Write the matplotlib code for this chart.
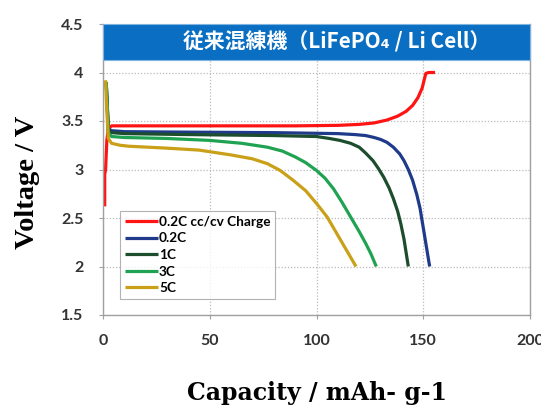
import numpy as np
import matplotlib
matplotlib.use("Agg")
import matplotlib.pyplot as plt
from matplotlib.patches import Rectangle

# --- datos (capacidad mAh/g, voltaje V) ---
charge_cap = [0.8, 0.8, 1.2, 1.8, 2.5, 4, 10, 30, 60, 90, 110, 120, 127, 133, 138, 142, 145, 147.5, 149.5, 150.5, 151.2, 152.5, 155.5]
charge_v = [2.62, 2.95, 3.0, 3.30, 3.42, 3.45, 3.45, 3.45, 3.45, 3.45, 3.455, 3.465, 3.48, 3.51, 3.55, 3.60, 3.66, 3.74, 3.84, 3.93, 3.99, 4.0, 4.0]

c02_cap = [1.5, 2.5, 4, 10, 40, 80, 110, 118, 123, 127, 130, 133, 136, 139, 141, 143, 145, 147, 148.5, 150, 151.5, 153]
c02_v = [3.90, 3.42, 3.40, 3.39, 3.385, 3.38, 3.37, 3.36, 3.35, 3.33, 3.31, 3.28, 3.23, 3.16, 3.09, 3.00, 2.89, 2.74, 2.60, 2.40, 2.20, 2.0]

c1_cap = [1.5, 2.5, 4, 10, 40, 80, 100, 106, 111, 116, 120, 123, 126.5, 129, 131.5, 134, 136, 138, 139.5, 141, 143]
c1_v = [3.90, 3.41, 3.38, 3.37, 3.36, 3.35, 3.34, 3.32, 3.30, 3.27, 3.23, 3.17, 3.09, 3.01, 2.92, 2.81, 2.70, 2.57, 2.44, 2.28, 2.0]

c3_cap = [1.5, 2.5, 4, 10, 30, 50, 65, 77, 84, 90, 95, 100, 104, 108, 112, 116, 120, 123, 125.5, 128]
c3_v = [3.90, 3.38, 3.34, 3.33, 3.32, 3.30, 3.27, 3.23, 3.19, 3.13, 3.07, 2.99, 2.91, 2.80, 2.66, 2.51, 2.36, 2.24, 2.13, 2.0]

c5_cap = [1.2, 1.8, 2.5, 4, 8, 12, 30, 45, 60, 70, 77, 83, 89, 95, 100, 105, 109.5, 114, 118.5]
c5_v = [3.92, 3.60, 3.32, 3.27, 3.25, 3.24, 3.22, 3.20, 3.15, 3.11, 3.06, 2.99, 2.89, 2.78, 2.65, 2.51, 2.34, 2.17, 2.0]

labels = ["0.2C cc/cv Charge", "0.2C", "1C", "3C", "5C"]
colors = ["#FF1414", "#1F3A8A", "#1C4D2C", "#1FA352", "#C9A017"]
series = [(charge_cap, charge_v), (c02_cap, c02_v), (c1_cap, c1_v), (c3_cap, c3_v), (c5_cap, c5_v)]

fig = plt.figure(figsize=(5.41, 4.12), dpi=100)
ax = fig.add_axes([103/541, 1 - 315/412, 427/541, 291/412])

for (x, y), lab, col in zip(series, labels, colors):
    ax.plot(x, y, color=col, lw=2.3, label=lab, solid_capstyle="butt", solid_joinstyle="round")

ax.set_xlim(0, 200)
ax.set_ylim(1.5, 4.5)
ax.set_xticks([0, 50, 100, 150, 200])
ax.set_yticks([1.5, 2, 2.5, 3, 3.5, 4, 4.5])
ax.set_yticklabels(["1.5", "2", "2.5", "3", "3.5", "4", "4.5"])
ax.grid(True, color="#BBBBBB", linestyle=(0, (1, 1.5)), lw=0.9)
ax.set_axisbelow(True)
for s in ["left", "bottom", "right"]:
    ax.spines[s].set_color("#A0A0A0")
    ax.spines[s].set_linewidth(1.0)
ax.spines["top"].set_visible(False)
ax.tick_params(colors="#A0A0A0", length=3, width=0.8, pad=11, labelcolor="#333333")
for t in ax.get_xticklabels() + ax.get_yticklabels():
    t.set_fontfamily("Lato")
    t.set_fontweight("bold")
    t.set_fontsize(11.5)

# banda azul del titulo
ax.add_patch(Rectangle((0, (315 - 60) / 291), 1, 1 - (315 - 60) / 291, transform=ax.transAxes,
                       facecolor="#0A6FC2", edgecolor="#7FB3E0", lw=0.8, zorder=5, clip_on=False))
fig.text(337/541, 1 - 42/412, "従来混練機（LiFePO₄ / Li Cell）", color="white", fontsize=15,
         fontweight="bold", ha="center", va="center", family=["Noto Sans CJK JP", "DejaVu Sans"], zorder=6)

leg = ax.legend(loc="lower left", bbox_to_anchor=(0.04, 0.055), frameon=True, fancybox=False,
                edgecolor="#A0A0A0", handlelength=2.4, handletextpad=0.1, labelspacing=0.34,
                borderpad=0.35, borderaxespad=0, prop={"family": "Lato", "weight": "bold", "size": 9.8})
leg.get_frame().set_linewidth(0.8)
for l in leg.get_lines():
    l.set_linewidth(2.3)

fig.text(28/541, 1 - 182/412, "Voltage / V", rotation=90, ha="center", va="center",
         fontsize=20.5, fontweight="bold", family="Liberation Serif")
fig.text(317/541, 1 - 393/412, "Capacity / mAh- g-1", ha="center", va="center",
         fontsize=17, fontweight="bold", family="DejaVu Serif")

fig.savefig("out.png", dpi=100)
